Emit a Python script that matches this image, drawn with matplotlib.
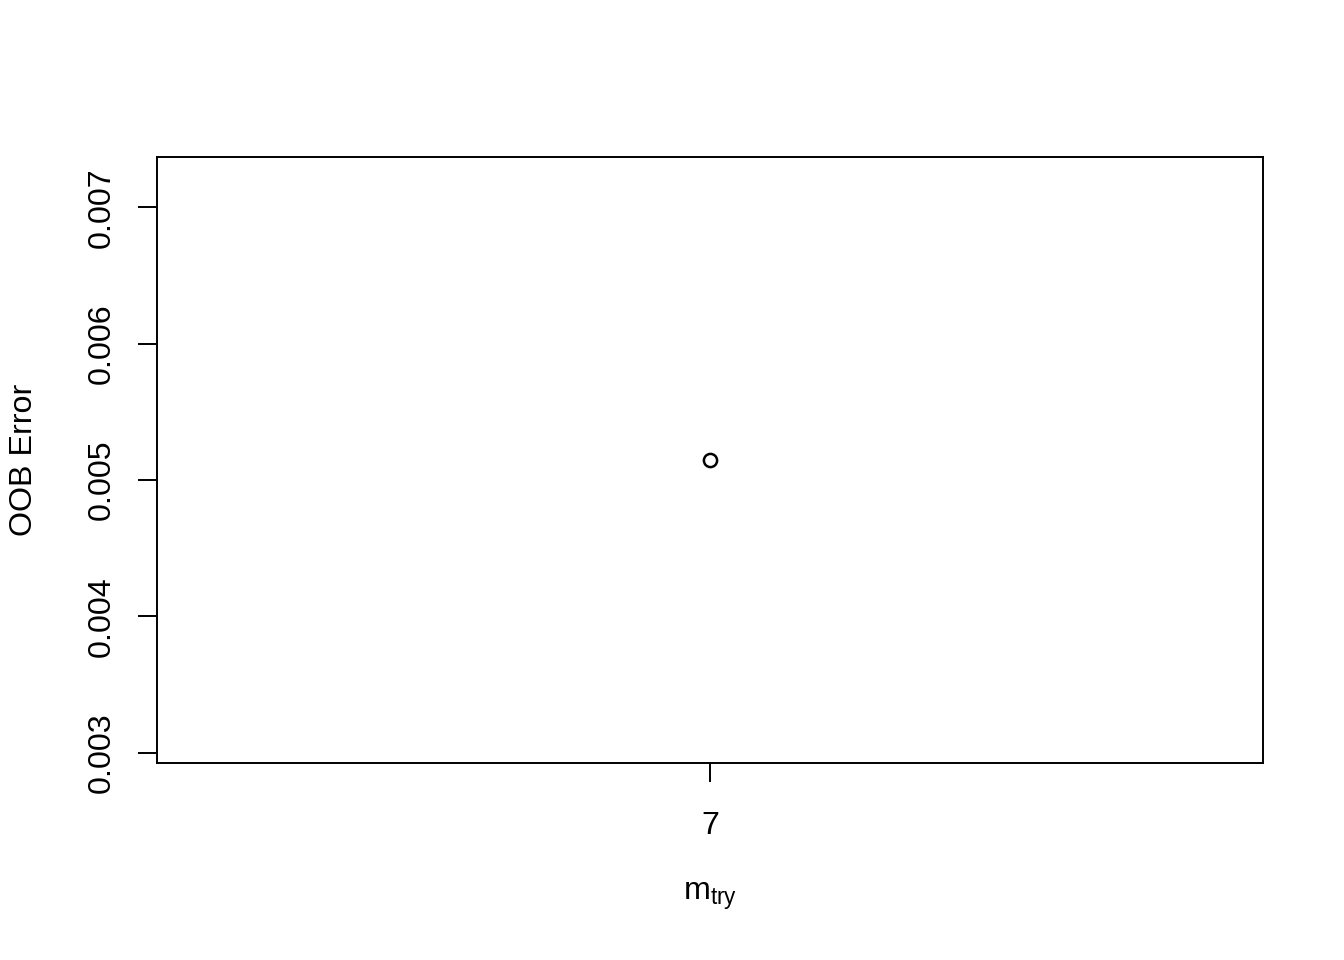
import matplotlib
matplotlib.use('Agg')
import matplotlib.pyplot as plt
from matplotlib import rcParams

rcParams['font.family'] = ['Liberation Sans', 'DejaVu Sans']
rcParams['mathtext.fontset'] = 'custom'
rcParams['mathtext.rm'] = 'Liberation Sans'
rcParams['mathtext.it'] = 'Liberation Sans'

# data: tuneRF result (one mtry value)
mtry = [7]
oob_error = [0.005147]
x_ticks = [7]
y_ticks = [0.003, 0.004, 0.005, 0.006, 0.007]
y_tick_labels = ['0.003', '0.004', '0.005', '0.006', '0.007']

W, H = 1344, 960
fs = 23.2
fig = plt.figure(figsize=(W / 100, H / 100), dpi=100)
ax = fig.add_axes([157 / W, 1 - 763 / H, (1263 - 157) / W, (763 - 157) / H])

ax.plot(mtry, oob_error, linestyle='none', marker='o', markersize=9.5,
        markerfacecolor='none', markeredgecolor='black', markeredgewidth=1.8)

# R style ranges: single value +/- 40%, then 4% extension
y0 = oob_error[0]
ylo, yhi = 0.6 * y0, 1.4 * y0
d = (yhi - ylo) * 0.04
ax.set_ylim(ylo - d, yhi + d)
x0 = mtry[0]
xlo, xhi = 0.6 * x0, 1.4 * x0
d = (xhi - xlo) * 0.04
ax.set_xlim(xlo - d, xhi + d)

ax.set_xticks(x_ticks)
ax.set_xticklabels([str(v) for v in x_ticks], fontsize=fs)
ax.set_yticks(y_ticks)
ax.set_yticklabels(y_tick_labels, fontsize=fs, rotation=90, va='center')
ax.tick_params(axis='both', length=14, width=1.4, color='black')
ax.tick_params(axis='y', pad=15)
ax.tick_params(axis='x', pad=20.5)
for s in ax.spines.values():
    s.set_linewidth(1.4)

fig.text(24.5 / W, 1 - 460 / H, 'OOB Error', rotation=90, fontsize=fs,
         ha='center', va='center')
fig.text(710 / W, 1 - 900 / H, r'$\mathrm{m_{try}}$', fontsize=fs,
         ha='center', va='baseline')

plt.savefig('out.png', dpi=100)
